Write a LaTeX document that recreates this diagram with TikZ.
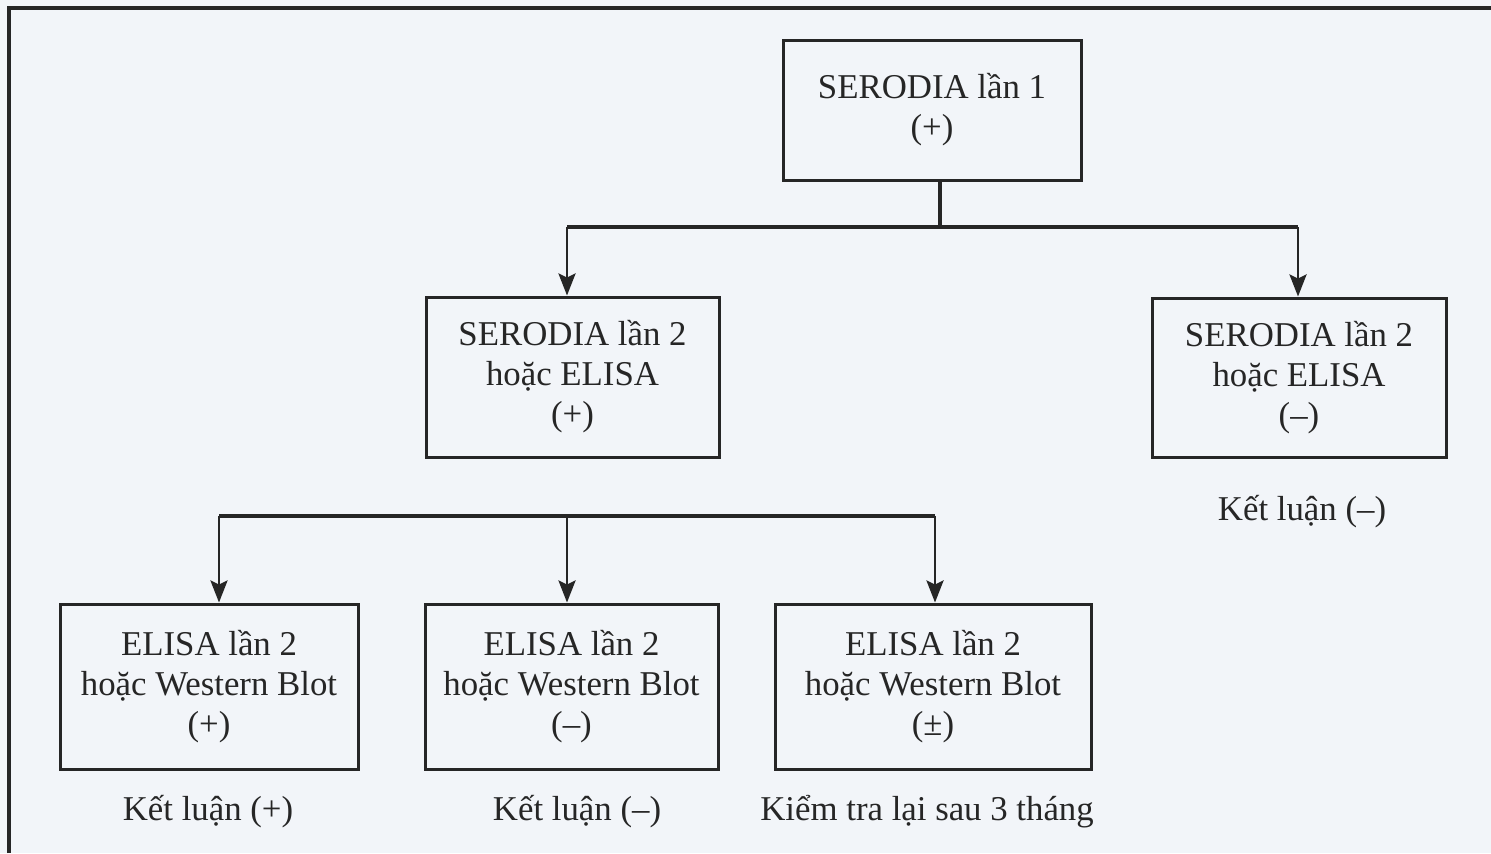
\documentclass[tikz,border=0pt]{standalone}
\usepackage{fontspec}
\setmainfont{Liberation Serif}
\usetikzlibrary{arrows.meta}
\definecolor{paper}{RGB}{242,245,249}
\definecolor{ink}{RGB}{38,38,38}
\begin{document}
\begin{tikzpicture}[x=0.5pt,y=-0.5pt,
  box/.style={draw=ink,line width=1.5pt,align=center,inner sep=0pt,text=ink,
    font=\fontsize{17.4}{20}\selectfont},
  lbl/.style={text=ink,font=\fontsize{17.4}{20}\selectfont,inner sep=0pt},
  wire/.style={draw=ink,line width=1.8pt},
  arr/.style={draw=ink,line width=1.4pt,-{Stealth[length=11pt,width=8.5pt,inset=2pt]}},
  frame/.style={draw=ink,line width=1.6pt}]
\fill[paper] (0,0) rectangle (1491,853);
\useasboundingbox (0,0) rectangle (1491,853);
% frame
\coordinate (fb) at (9,853);
\coordinate (fc) at (9,8);
\coordinate (fr) at (1491,8);
\draw[frame] (fb) -- (fc) -- (fr);
% boxes
\node[box,minimum width=149pt,minimum height=70pt] (b1) at (932,110) {SERODIA lần 1\\(+)};
\node[box,minimum width=146.5pt,minimum height=80pt] (b2) at (572.5,377) {SERODIA lần 2\\hoặc ELISA\\(+)};
\node[box,minimum width=147pt,minimum height=79.5pt] (b3) at (1299,377.5) {SERODIA lần 2\\hoặc ELISA\\(–)};
\node[box,minimum width=149pt,minimum height=82.5pt] (b4) at (209,686.5) {ELISA lần 2\\hoặc Western Blot\\(+)};
\node[box,minimum width=146.5pt,minimum height=82.5pt] (b5) at (571.5,686.5) {ELISA lần 2\\hoặc Western Blot\\(–)};
\node[box,minimum width=158pt,minimum height=82.5pt] (b6) at (933,686.5) {ELISA lần 2\\hoặc Western Blot\\(±)};
% labels
\node[lbl] (l3) at (1302,512) {Kết luận (–)};
\node[lbl] (l4) at (208,812) {Kết luận (+)};
\node[lbl] (l5) at (577,812) {Kết luận (–)};
\node[lbl] (l6) at (927,812) {Kiểm tra lại sau 3 tháng};
% first split
\coordinate (j1) at (940,227);
\coordinate (t2) at (567,227);
\coordinate (t3) at (1298,227);
\draw[wire] (b1.south -| j1) -- (j1);
\draw[wire] (t2) -- (t3);
\draw[arr] (t2) -- (t2 |- b2.north);
\draw[arr] (t3) -- (t3 |- b3.north);
% second split
\coordinate (t4) at (219,516);
\coordinate (t5) at (567,516);
\coordinate (t6) at (935,516);
\draw[wire] (t4) -- (t6);
\draw[arr] (t4) -- (t4 |- b4.north);
\draw[arr] (t5) -- (t5 |- b5.north);
\draw[arr] (t6) -- (t6 |- b6.north);
\end{tikzpicture}
\end{document}
